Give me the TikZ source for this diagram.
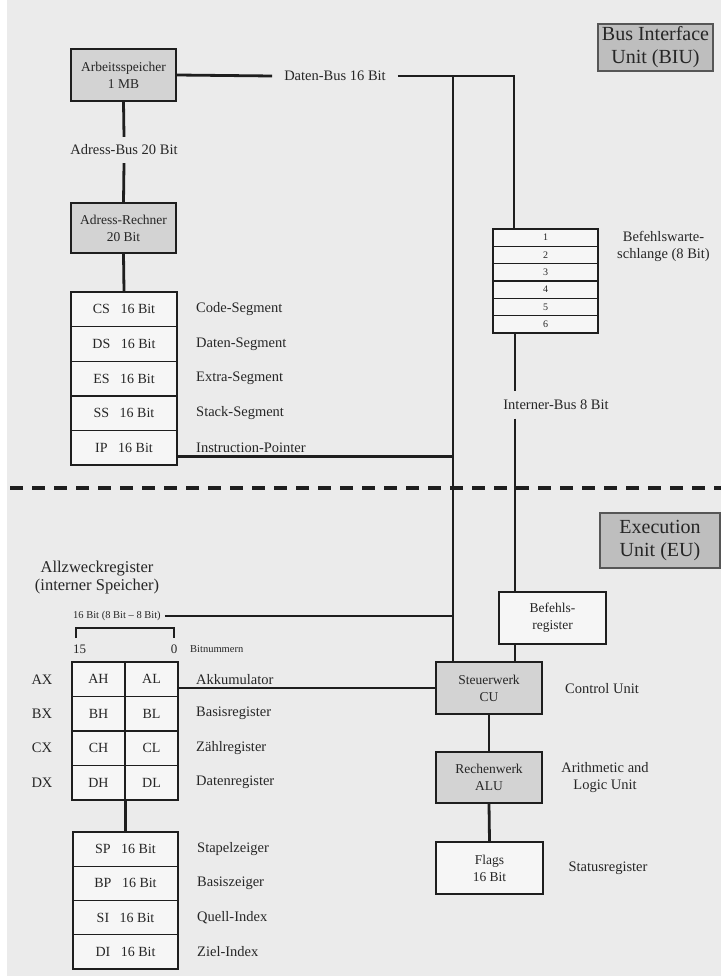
\documentclass[tikz,border=0pt]{standalone}
\usepackage{fontspec}
\setmainfont{Liberation Serif}
\newcommand\myfs[2]{\fontsize{#1}{#2}\selectfont}
\definecolor{bg}{HTML}{EBEBEB}
\definecolor{linec}{HTML}{1E1E1E}
\definecolor{textc}{HTML}{262626}
\definecolor{boxgray}{HTML}{D3D3D3}
\definecolor{cellfill}{HTML}{F6F6F6}
\begin{document}
\begin{tikzpicture}[x=1pt,y=-1pt,
  bus/.style={draw=linec, line width=2.8pt},
  thinl/.style={draw=linec, line width=1.4pt},
  box/.style={draw=linec, line width=1.4pt, fill=cellfill, inner sep=0pt, align=center, text=textc, font=\myfs{13.5}{17}},
  graybox/.style={box, fill=boxgray},
  unitbox/.style={draw=linec!75, line width=1.4pt, fill=boxgray!90!black, inner sep=0pt, align=center, text=textc, font=\myfs{20}{23}},
  cell/.style={box, font=\myfs{14}{17}},
  qcell/.style={box, font=\myfs{10}{12}, minimum width=105pt, minimum height=17.33pt},
  lbl/.style={text=textc, font=\myfs{14.5}{17}, inner sep=0pt, align=center},
  small/.style={text=textc, font=\myfs{10.5}{12}, inner sep=0pt}]
\useasboundingbox (0,0) rectangle (721,976);
\fill[bg] (0,0) rectangle (721,976);
\fill[white] (0,0) rectangle (7,976);

% ---------- BIU ----------
\node[unitbox, minimum width=115pt, minimum height=47pt] (biu) at (655.5,47.5) {Bus Interface\\Unit (BIU)};

\node[graybox, minimum width=105pt, minimum height=52pt] (mem) at (123.5,75) {Arbeitsspeicher\\1 MB};
\node[lbl, minimum height=26pt] (ab) at (124,150) {Adress-Bus 20 Bit};
\node[graybox, minimum width=105pt, minimum height=50pt] (rech) at (123.5,228) {Adress-Rechner\\20 Bit};

\foreach \i/\r/\t in {1/CS/Code-Segment, 2/DS/Daten-Segment, 3/ES/Extra-Segment, 4/SS/Stack-Segment, 5/IP/Instruction-Pointer}{
  \node[cell, minimum width=106pt, minimum height=34.6pt] (seg\i) at (124,{292+34.6*\i-17.3}) {\r\hspace{0.75em}16 Bit};
  \node[lbl, anchor=west] (segl\i) at (196,{292+34.6*\i-17.3}) {\t};
}

\node[lbl, inner xsep=12pt] (dbl) at (335,76) {Daten-Bus 16 Bit};
\coordinate (J) at (453,76);
\coordinate (Q) at (514,76);
\coordinate (I) at (515,333);

\foreach \i in {1,...,6}{
  \node[qcell] (q\i) at (545.5,{229+17.33*\i-8.67}) {\i};
}
\node[lbl, anchor=west] (ql) at (617,246) {Befehlswarte-\\schlange (8 Bit)};

\node[lbl, minimum height=27pt] (ibl) at (556,405) {Interner-Bus 8 Bit};

% connectors BIU
\draw[bus] (mem.east) -- (dbl.west);
\draw[bus] (dbl.east) -- (Q) -- (Q |- q1.north);
\draw[bus] (mem.south) -- (ab.north);
\draw[bus] (ab.south) -- (rech.north);
\draw[bus] (rech.south) -- (seg1.north);
\draw[bus] ([yshift=-9pt]seg5.east) -- ([yshift=-9pt]seg5.east -| J);
\draw[bus] (I) -- (I |- ibl.north);

% ---------- dashed separator ----------
\coordinate (dl) at (10,488);
\coordinate (dr) at (721,488);
\draw[draw=linec, line width=3.6pt, dash pattern=on 13pt off 9pt] (dl) -- (dr);

% ---------- EU ----------
\node[unitbox, minimum width=120pt, minimum height=55pt] (eu) at (660,540.5) {Execution\\Unit (EU)};

\node[lbl, font=\myfs{16.5}{18}] (allz) at (97,578) {Allzweckregister\\(interner Speicher)};
\node[small, anchor=west, inner xsep=4pt] (b16) at (69,616) {16 Bit (8 Bit -- 8 Bit)};
\coordinate (brl) at (76,638);
\coordinate (brr) at (174,638);
\draw[thinl] (brl) -- ++(0,-10) -| (brr);
\node[small, font=\myfs{13}{15}, anchor=west] (n15) at (73,649) {15};
\node[small, font=\myfs{13}{15}] (n0) at (174,649) {0};
\node[small, anchor=west] (bn) at (190,649) {Bitnummern};

\foreach \i/\a/\b/\x/\t in {1/AH/AL/AX/Akkumulator, 2/BH/BL/BX/Basisregister, 3/CH/CL/CX/Zählregister, 4/DH/DL/DX/Datenregister}{
  \node[cell, minimum width=53pt, minimum height=34.5pt] (h\i) at (98.5,{662+34.5*\i-17.25}) {\a};
  \node[cell, minimum width=53pt, minimum height=34.5pt] (l\i) at (151.5,{662+34.5*\i-17.25}) {\b};
  \node[lbl] (x\i) at (42,{662+34.5*\i-17.25}) {\x};
  \node[lbl, anchor=west] (rl\i) at (196,{662+34.5*\i-17.25}) {\t};
}

\foreach \i/\r/\t in {1/SP/Stapelzeiger, 2/BP/Basiszeiger, 3/SI/Quell-Index, 4/DI/Ziel-Index}{
  \node[cell, minimum width=105pt, minimum height=34.25pt] (sp\i) at (125.5,{832+34.25*\i-17.125}) {\r\hspace{0.75em}16 Bit};
  \node[lbl, anchor=west] (spl\i) at (197,{832+34.25*\i-17.125}) {\t};
}

\node[box, minimum width=107pt, minimum height=52pt] (breg) at (552.5,618) {Befehls-\\register};
\node[graybox, minimum width=106pt, minimum height=52pt] (cu) at (489,688) {Steuerwerk\\CU};
\node[lbl, anchor=west] (cul) at (565,689) {Control Unit};
\node[graybox, minimum width=106pt, minimum height=51pt] (alu) at (489,777.5) {Rechenwerk\\ALU};
\node[lbl] (alul) at (605,778) {Arithmetic and\\Logic Unit};
\node[box, minimum width=107pt, minimum height=52pt] (flags) at (489.5,868) {Flags\\16 Bit};
\node[lbl] (fl) at (608,868) {Statusregister};

% connectors EU
\draw[bus] (J) -- (J |- cu.north);
\draw[bus] (I |- ibl.south) -- (I |- breg.north);
\draw[bus] (breg.south -| I) -- (cu.north -| I);
\draw[bus] (b16.east) -- (b16.east -| J);
\draw[bus] (l1.east |- cu.west) -- (cu.west);
\draw[bus] (cu.south) -- (alu.north);
\draw[bus] (alu.south) -- (flags.north);
\draw[bus] (h4.south east) -- (h4.south east |- sp1.north);
\end{tikzpicture}
\end{document}
